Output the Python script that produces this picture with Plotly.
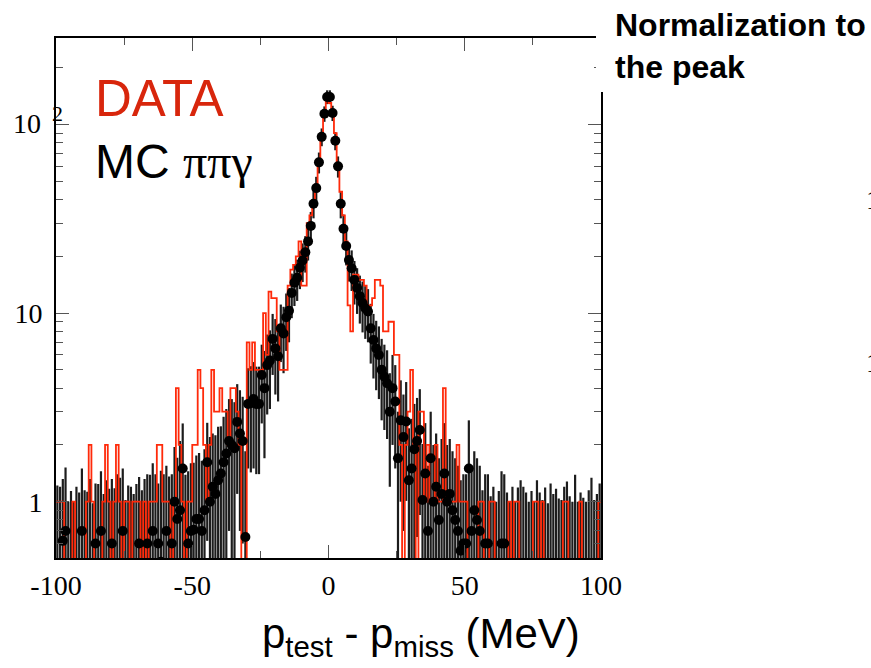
import numpy as np
import plotly.graph_objects as go

# 1 MeV bins from -100 to 100 MeV
bin_edges = list(range(-100, 101))

# MC pi pi gamma (normalised to the peak), one value per 1 MeV bin
mc_values = [
    0.42, 0.45, 0.62, 0.70, 0.40, 0.44, 0.38, 0.45, 0.42, 0.70,   # -100..-91
    0.40, 0.45, 0.42, 0.38, 0.60, 0.44, 0.70, 0.40, 0.45, 0.42,   # -90..-81
    0.60, 0.40, 0.45, 0.44, 0.70, 0.40, 0.42, 0.45, 0.40, 0.44,   # -80..-71
    0.60, 0.45, 0.42, 0.60, 0.44, 0.70, 0.45, 0.60, 0.48, 0.45,   # -70..-61
    0.70, 0.46, 0.60, 1.00, 0.81, 0.90, 1.50, 0.44, 0.60, 0.70,   # -60..-51
    0.71, 0.81, 0.81, 0.70, 0.90, 1.62, 1.00, 1.20, 1.10, 1.30,   # -50..-41
    1.41, 1.62, 1.80, 2.10, 2.00, 1.92, 2.65, 2.30, 2.10, 0.65,   # -40..-31
    3.30, 3.33, 3.50, 3.30, 3.30, 4.70, 4.00, 5.30, 5.60, 7.30,   # -30..-21
    6.50, 5.90, 8.30, 7.80, 9.50, 10.3, 12.8, 14.5, 15.4, 17.4,   # -20..-11
    19.0, 21.0, 24.0, 29.0, 38.0, 46.0, 63.0, 86.0, 114.0, 140.0, # -10..-1
    140.0, 115.0, 82.0, 60.0, 38.0, 28.0, 22.7, 19.1, 17.3, 15.0, # 0..9
    13.6, 12.3, 11.3, 10.6, 10.2, 8.3, 7.2, 6.5, 6.0, 5.0,        # 10..19
    4.6, 4.25, 3.0, 4.0, 3.4, 1.7, 2.7, 2.2, 2.66, 1.3,           # 20..29
    1.5, 1.9, 2.1, 2.4, 1.02, 1.41, 0.70, 1.70, 1.00, 1.20,       # 30..39
    0.80, 1.10, 1.41, 1.00, 1.10, 0.90, 0.80, 0.70, 0.55, 0.60,   # 40..49
    0.60, 1.50, 0.70, 0.90, 0.80, 0.70, 0.45, 0.60, 0.60, 0.42,   # 50..59
    0.45, 0.40, 0.44, 0.60, 0.60, 0.42, 0.40, 0.45, 0.38, 0.44,   # 60..69
    0.40, 0.45, 0.42, 0.38, 0.44, 0.40, 0.45, 0.42, 0.40, 0.44,   # 70..79
    0.38, 0.45, 0.40, 0.42, 0.44, 0.40, 0.45, 0.38, 0.42, 0.40,   # 80..89
    0.44, 0.40, 0.42, 0.45, 0.38, 0.40, 0.44, 0.42, 0.40, 0.45,   # 90..99
]

mc_errors = [
    0.80, 0.75, 0.70, 0.82, 0.60, 0.70, 0.62, 0.75, 0.70, 0.80,
    0.75, 0.68, 0.90, 0.60, 0.65, 0.80, 0.75, 0.70, 0.85, 0.75,
    0.72, 0.78, 0.95, 0.90, 0.80, 0.62, 0.80, 0.75, 0.70, 0.80,
    0.75, 0.70, 0.90, 0.80, 0.95, 0.90, 0.95, 0.65, 0.98, 0.95,
    0.85, 0.90, 0.80, 0.95, 0.90, 1.20, 1.10, 0.95, 0.85, 0.90,
    0.90, 0.95, 1.00, 0.95, 1.00, 1.00, 1.20, 1.10, 1.15, 1.20,
    1.10, 1.20, 1.30, 1.40, 1.50, 1.45, 1.55, 1.60, 1.50, 1.20,
    1.80, 1.90, 2.00, 1.90, 1.90, 2.10, 2.30, 2.40, 2.50, 2.60,
    2.80, 2.50, 2.80, 3.00, 3.20, 3.30, 3.40, 3.60, 3.80, 4.00,
    4.40, 4.60, 5.00, 5.40, 6.20, 6.80, 8.00, 9.30, 10.7, 11.8,
    11.8, 10.7, 9.0, 7.7, 6.2, 5.3, 4.8, 4.4, 4.2, 3.9,
    3.7, 3.5, 3.4, 3.3, 3.2, 2.9, 2.7, 2.6, 2.5, 2.3,
    2.2, 2.1, 1.8, 2.0, 1.9, 1.3, 1.7, 1.5, 1.65, 1.15,
    1.25, 1.4, 1.45, 1.55, 1.0, 1.2, 0.85, 1.3, 1.0, 1.1,
    0.9, 1.05, 1.2, 1.0, 1.05, 0.95, 0.9, 0.85, 0.75, 0.8,
    0.8, 1.2, 0.85, 0.95, 0.9, 0.85, 0.7, 0.8, 0.8, 0.65,
    0.75, 0.6, 0.7, 0.85, 0.8, 0.7, 0.6, 0.75, 0.62, 0.75,
    0.9, 0.75, 0.7, 0.62, 0.7, 0.6, 0.85, 0.7, 0.62, 0.75,
    0.6, 0.8, 0.7, 0.75, 0.6, 0.62, 0.75, 0.9, 0.65, 0.6,
    0.95, 0.6, 0.7, 0.6, 0.62, 0.75, 0.9, 0.6, 0.7, 0.8,
]

# DATA histogram (counts per 1 MeV bin)
data_counts = [
    1, 1, 1, 0, 0, 0, 1, 0, 0, 0,          # -100..-91
    0, 1, 2, 1, 0, 0, 0, 1, 2, 1,          # -90..-81
    0, 1, 2, 1, 0, 1, 1, 0, 1, 1,          # -80..-71
    1, 0, 1, 0, 1, 1, 1, 2, 2, 1,          # -70..-61
    1, 1, 0, 1, 4, 2, 1, 0, 1, 1,          # -60..-51
    2, 2, 5, 4, 2, 1, 2, 5, 3, 3,          # -50..-41
    4, 3, 3, 2, 4, 4, 3, 2, 0, 0,          # -40..-31
    7, 5, 7, 5, 5, 5, 10, 6, 13, 12,       # -30..-21
    12, 8, 5, 5, 5, 14, 17, 18, 20, 24,    # -20..-11
    14, 14, 30, 33, 38, 48, 62, 88, 118, 135,  # -10..-1
    130, 118, 90, 62, 44, 33, 24, 11, 8, 16,   # 0..9
    16, 15, 15, 14, 11, 11, 12, 15, 15, 14,    # 10..19
    8, 8, 9, 9, 6, 6, 2, 0, 2, 3,          # 20..29
    5, 2, 0, 3, 3, 1, 2, 1, 1, 2,          # 30..39
    1, 1, 4, 1, 1, 1, 1, 2, 1, 1,          # 40..49
    1, 0, 0, 0, 0, 1, 1, 0, 0, 1,          # 50..59
    1, 0, 0, 0, 0, 0, 1, 0, 1, 1,          # 60..69
    0, 0, 0, 0, 0, 1, 1, 0, 1, 0,          # 70..79
    0, 0, 0, 0, 0, 0, 1, 1, 0, 0,          # 80..89
    0, 0, 1, 0, 0, 0, 0, 0, 0, 1,          # 90..99
]

x_tick_vals = [-100, -50, 0, 50, 100]
x_tick_text = ["-100", "-50", "0", "50", "100"]
x_minor_vals = [-75, -25, 25, 75]
y_tick_vals = [1, 10, 100]
y_tick_text = ["1", "10", ""]   # 10^2 label drawn as text below

edges = np.array(bin_edges, dtype=float)
centers = edges[:-1] + 0.5
mc = np.array(mc_values)
mc_err = np.array(mc_errors)
counts = np.array(data_counts, dtype=float)
# empty bins drawn down to the bottom of the log axis
step_y = np.where(counts > 0, counts, 1e-3)
step_y = np.append(step_y, step_y[-1])

y_minor_vals = [m * d for d in (0.1, 1, 10, 100) for m in range(2, 10)]

serif = "Liberation Serif"
sans = "Liberation Sans"

fig = go.Figure()
fig.add_trace(go.Scatter(
    x=centers, y=mc, mode="markers",
    marker=dict(size=1, color="rgba(0,0,0,0)"),
    error_y=dict(type="data", array=mc_err, visible=True,
                 color="#1c1c1c", thickness=2.2, width=0),
    showlegend=False, hoverinfo="skip"))
fig.add_trace(go.Scatter(
    x=edges, y=step_y, mode="lines",
    line=dict(color="#ff2a0a", width=1.8, shape="hv"),
    showlegend=False))
fig.add_trace(go.Scatter(
    x=centers, y=mc, mode="markers",
    marker=dict(size=10, color="black"),
    showlegend=False))

def px_x(p):
    return (p - 56) / 545.0

def px_y(p):
    return (558 - p) / 520.0

fig.update_layout(
    width=871, height=668,
    margin=dict(l=56, r=270, t=38, b=110, autoexpand=False),
    plot_bgcolor="white", paper_bgcolor="white",
    showlegend=False,
    xaxis=dict(
        range=[-100, 100], showgrid=False, zeroline=False, automargin=False,
        showline=True, linewidth=2, linecolor="black", mirror="allticks",
        ticks="inside", ticklen=13, tickwidth=1, tickcolor="#555",
        tickmode="array", tickvals=x_tick_vals, ticktext=x_tick_text,
        minor=dict(tickmode="array", tickvals=x_minor_vals, ticks="inside",
                   ticklen=7, tickwidth=1, tickcolor="#555"),
        tickfont=dict(family=serif, size=28, color="black"),
        ticklabelstandoff=1,
    ),
    yaxis=dict(
        type="log", range=[-0.2985, 2.4586], showgrid=False, zeroline=False,
        automargin=False,
        showline=True, linewidth=2, linecolor="black", mirror="allticks",
        ticks="inside", ticklen=13, tickwidth=1, tickcolor="#555",
        tickmode="array", tickvals=y_tick_vals, ticktext=y_tick_text,
        minor=dict(tickmode="array", tickvals=y_minor_vals, ticks="inside",
                   ticklen=7, tickwidth=1, tickcolor="#555"),
        tickfont=dict(family=serif, size=28, color="black"),
        ticklabelstandoff=6,
    ),
    shapes=[dict(type="rect", xref="paper", yref="paper",
                 x0=px_x(596), x1=1.7, y0=px_y(92), y1=1.2,
                 fillcolor="white", line=dict(width=0), layer="above")],
    annotations=[
        dict(text="10", x=px_x(43), y=px_y(124), xref="paper", yref="paper",
             xanchor="right", yanchor="middle", showarrow=False,
             font=dict(family=serif, size=28, color="black")),
        dict(text="2", x=px_x(50), y=px_y(113), xref="paper", yref="paper",
             xanchor="left", yanchor="middle", showarrow=False,
             font=dict(family=serif, size=22, color="black")),
        dict(text="DATA", x=px_x(93), y=px_y(98), xref="paper", yref="paper",
             xanchor="left", yanchor="middle", showarrow=False,
             font=dict(family=sans, size=51, color="#d8260c")),
        dict(text="MC <span style=\"font-family:'Liberation Serif'\">ππγ</span>",
             x=px_x(93), y=px_y(161), xref="paper", yref="paper",
             xanchor="left", yanchor="middle", showarrow=False,
             font=dict(family=sans, size=48, color="black")),
        dict(text="<b>Normalization to<br>the peak</b>", x=px_x(613), y=px_y(5),
             xref="paper", yref="paper", xanchor="left", yanchor="top",
             align="left", showarrow=False,
             font=dict(family=sans, size=32, color="black")),
        dict(text="p<sub>test</sub> - p<sub>miss</sub> (MeV)", x=px_x(421), y=px_y(636),
             xref="paper", yref="paper", xanchor="center", yanchor="middle",
             showarrow=False, font=dict(family=sans, size=42, color="black")),
        dict(text="1", x=px_x(864), y=px_y(199), xref="paper", yref="paper",
             xanchor="left", yanchor="middle", showarrow=False,
             font=dict(family=serif, size=28, color="black")),
        dict(text="1", x=px_x(864), y=px_y(362), xref="paper", yref="paper",
             xanchor="left", yanchor="middle", showarrow=False,
             font=dict(family=serif, size=28, color="black")),
    ],
)

fig.write_html("out.html")
